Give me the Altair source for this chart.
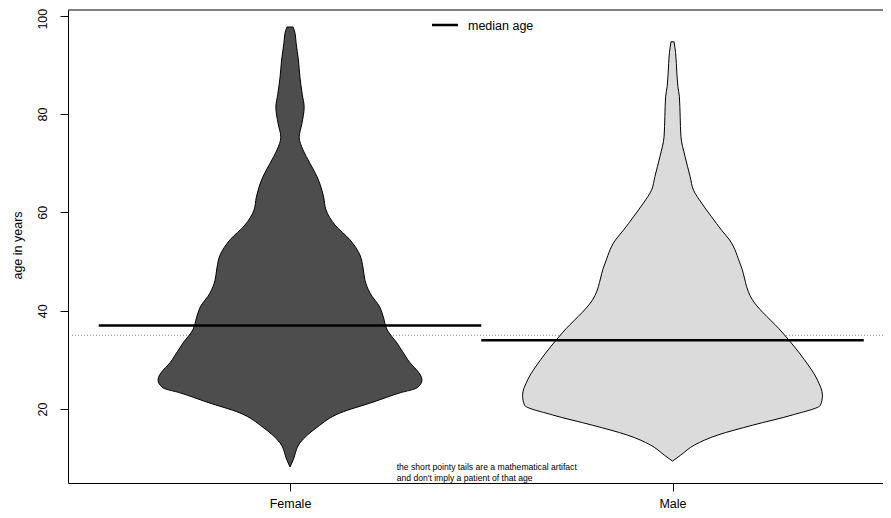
import altair as alt
import pandas as pd

# ---- data ----
groups = ["Female", "Male"]
fills = ["#4d4d4d", "#dbdbdb"]

female_age = [8.2, 9.6, 13.1, 16.3, 19.2, 21.4, 23.3, 24.3, 25.9, 30.0, 33.4, 36.1, 38.7,
              40.7, 43.6, 46.2, 48.7, 51.3, 54.4, 57.4, 60.5, 63.1, 67.2, 70.0, 72.7, 75.3,
              78.0, 81.4, 84.0, 87.5, 91.0, 94.4, 96.5, 97.7]
female_hw = [0.0, 0.008, 0.026, 0.071, 0.131, 0.217, 0.288, 0.332, 0.345, 0.308, 0.280, 0.254,
             0.244, 0.235, 0.209, 0.196, 0.191, 0.183, 0.157, 0.118, 0.094, 0.088, 0.071,
             0.052, 0.034, 0.024, 0.031, 0.037, 0.032, 0.026, 0.022, 0.016, 0.013, 0.008]

male_age = [9.4, 10.6, 12.7, 14.7, 16.7, 18.8, 20.8, 22.8, 25.9, 30.0, 35.5, 42.2, 49.3, 54.4,
            56.4, 59.1, 61.9, 64.5, 67.3, 71.3, 75.4, 79.5, 83.5, 85.6, 90.3, 92.5, 94.7]
male_hw = [0.0, 0.021, 0.058, 0.118, 0.209, 0.314, 0.387, 0.392, 0.379, 0.345, 0.288, 0.209,
           0.178, 0.149, 0.128, 0.102, 0.076, 0.055, 0.046, 0.033, 0.022, 0.020, 0.018,
           0.014, 0.010, 0.008, 0.004]

medians = [37, 34]
overall_median = 35
y_ticks = [20, 40, 60, 80, 100]
legend_label = "median age"
note_lines = ["the short pointy tails are a mathematical artifact",
              "\u00a0and don't imply a patient of that age"]
y_title = "age in years"

FONT = "Liberation Sans"

W, H = 815, 473
xdom = [0.4196, 2.5503]
ydom = [4.95, 101.16]

xscale = alt.Scale(domain=xdom, nice=False, zero=False)
yscale = alt.Scale(domain=ydom, nice=False, zero=False)

xaxis = alt.Axis(values=[1, 2], labelExpr="datum.value == 1 ? 'Female' : 'Male'",
                 title=None, grid=False, tickSize=8, labelPadding=6, labelFontSize=12.5,
                 labelFont=FONT, labelColor="black", domainColor="black", tickColor="black")
yaxis = alt.Axis(values=y_ticks, title=y_title, grid=False, tickSize=8, labelPadding=14,
                 labelAngle=270, labelAlign="center", labelBaseline="alphabetic",
                 labelOffset={"condition": {"test": "datum.value >= 100", "value": 3}, "value": 0},
                 labelFontSize=12.5, labelFont=FONT, labelColor="black",
                 domainColor="black", tickColor="black",
                 titleAngle=270, titleX=-47, titleY=235, titleAlign="center",
                 titleBaseline="alphabetic", titleFont=FONT, titleFontSize=12.5,
                 titleFontWeight="normal", titleColor="black")


def violin(ages, hws, center, fill):
    df = pd.DataFrame({"age": ages, "hw": hws})
    df["lo"] = center - df["hw"]
    df["hi"] = center + df["hw"]
    return alt.Chart(df).mark_area(
        orient="horizontal", interpolate="monotone", fill=fill,
        stroke="black", strokeWidth=1, opacity=1, fillOpacity=1
    ).encode(
        y=alt.Y("age:Q", scale=yscale, axis=yaxis),
        x=alt.X("lo:Q", scale=xscale, axis=xaxis),
        x2="hi:Q",
    )


v_f = violin(female_age, female_hw, 1, fills[0])
v_m = violin(male_age, male_hw, 2, fills[1])

mdf = pd.DataFrame({"a": [0.5, 1.5], "b": [1.5, 2.5], "median": medians})

dotted = alt.Chart(pd.DataFrame({"m": [overall_median]})).mark_rule(
    color="#8c8c8c", strokeDash=[1, 2], strokeWidth=1
).encode(y=alt.Y("m:Q", scale=yscale, axis=yaxis), x=alt.value(4), x2=alt.value(W))

med = alt.Chart(mdf).mark_rule(color="black", strokeWidth=2.5).encode(
    y=alt.Y("median:Q", scale=yscale, axis=yaxis),
    x=alt.X("a:Q", scale=xscale, axis=xaxis), x2="b:Q")

leg_line = alt.Chart(pd.DataFrame({"t": [legend_label]})).mark_rule(
    color="black", strokeWidth=2.5).encode(x=alt.value(364), x2=alt.value(390), y=alt.value(15))
leg_text = alt.Chart(pd.DataFrame({"t": [legend_label]})).mark_text(
    align="left", baseline="middle", font=FONT, fontSize=12.5, color="black").encode(
    x=alt.value(400), y=alt.value(15.5), text="t:N")

note1 = alt.Chart(pd.DataFrame({"t": [note_lines[0]]})).mark_text(
    align="left", baseline="middle", font=FONT, fontSize=8.6, color="black").encode(
    x=alt.value(328.7), y=alt.value(456.7), text="t:N")
note2 = alt.Chart(pd.DataFrame({"t": [note_lines[1]]})).mark_text(
    align="left", baseline="middle", font=FONT, fontSize=8.6, color="black").encode(
    x=alt.value(328.7), y=alt.value(468.3), text="t:N")

top_border = alt.Chart(pd.DataFrame({"t": [0]})).mark_rule(color="black", strokeWidth=1).encode(
    x=alt.value(0), x2=alt.value(W), y=alt.value(0))

chart = alt.layer(dotted, v_f, v_m, med, leg_line, leg_text, note1, note2, top_border).properties(
    width=W, height=H,
    autosize=alt.AutoSizeParams(type="none"),
    padding={"left": 60, "top": 2, "right": 0, "bottom": 27},
    background="white",
).configure_view(stroke=None)

chart.save("out.html", embed_options={"renderer": "svg", "actions": False})
